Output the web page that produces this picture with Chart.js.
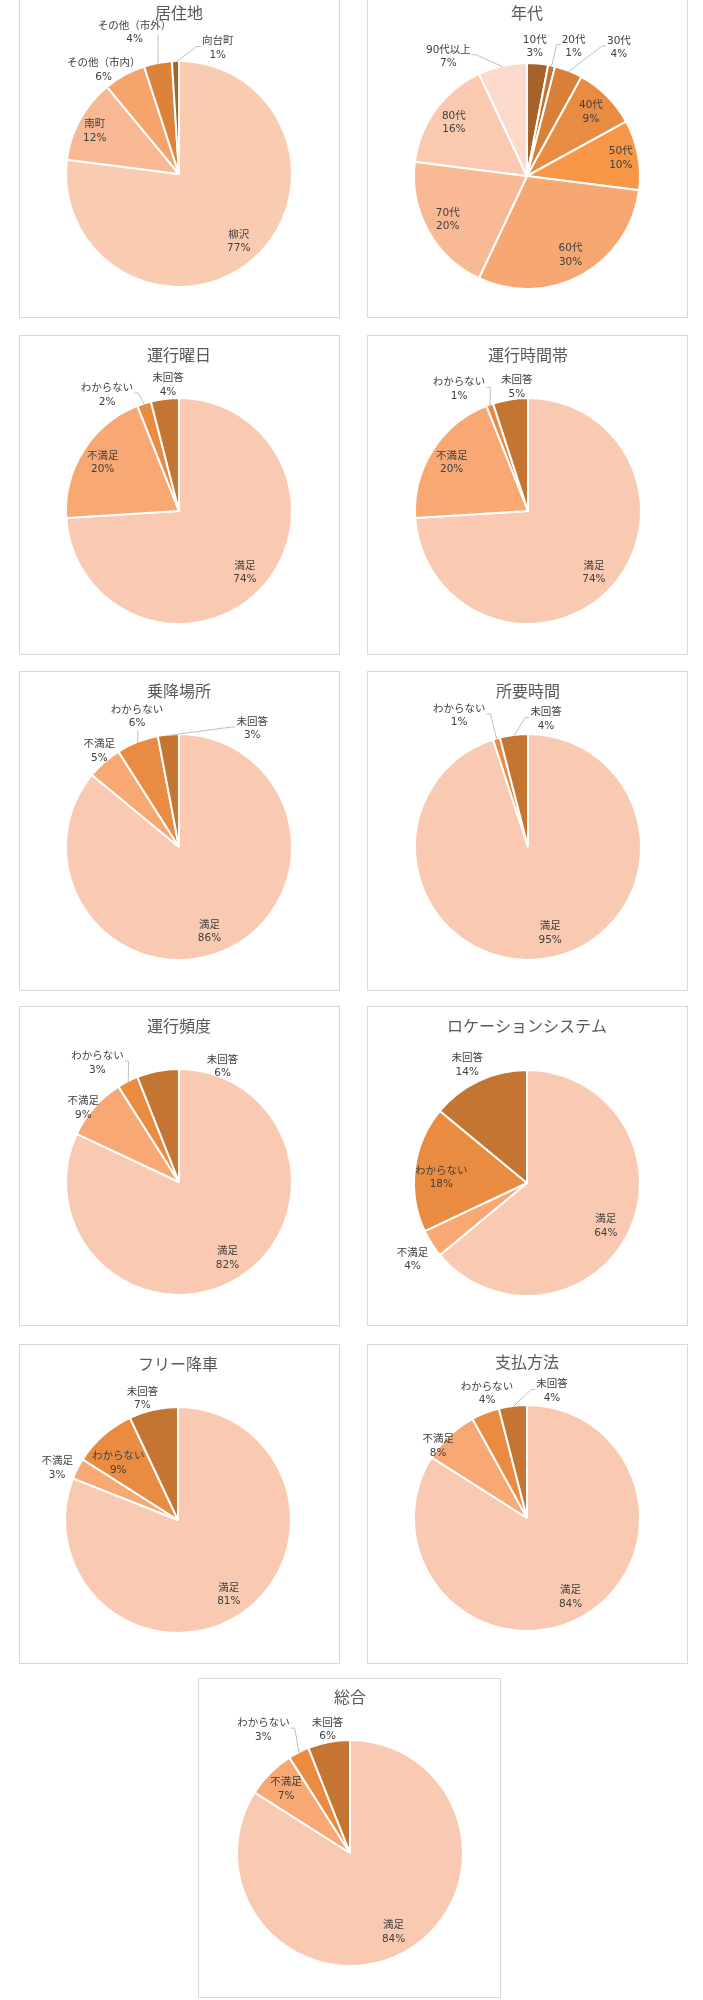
<!DOCTYPE html>
<html lang="ja">
<head>
<meta charset="utf-8">
<title>アンケート結果</title>
<script src="https://cdn.jsdelivr.net/npm/chart.js@4.4.1/dist/chart.umd.min.js"></script>
<style>
  body { margin: 0; background: #fff; width: 703px; height: 2000px; position: relative; overflow: hidden; }
  .panel { position: absolute; box-sizing: border-box; border: 1px solid #d9d9d9; background: #fff; }
  .panel canvas { position: absolute; left: -1px; top: -1px; }
</style>
</head>
<body>
<script>
'use strict';

// --- data ---
const residenceLabels = ['柳沢', '南町', 'その他（市内）', 'その他（市外）', '向台町'];
const residenceValues = [77, 12, 6, 4, 1];

const ageLabels = ['10代', '20代', '30代', '40代', '50代', '60代', '70代', '80代', '90代以上'];
const ageValues = [3, 1, 4, 9, 10, 30, 20, 16, 7];

const answerLabels = ['満足', '不満足', 'わからない', '未回答'];
const dayValues   = [74, 20, 2, 4];   // 運行曜日
const hourValues  = [74, 20, 1, 5];   // 運行時間帯
const stopValues  = [86, 5, 6, 3];    // 乗降場所
const rideValues  = [95, 0, 1, 4];    // 所要時間
const freqValues  = [82, 9, 3, 6];    // 運行頻度
const locValues   = [64, 4, 18, 14];  // ロケーションシステム
const freeValues  = [81, 3, 9, 7];    // フリー降車
const payValues   = [84, 8, 4, 4];    // 支払方法
const totalValues = [84, 7, 3, 6];    // 総合

// --- colours ---
const residenceColors = ['#f9cbb1', '#f8b893', '#f5a46c', '#dc8339', '#a5632b'];
const ageColors = ['#a5632b', '#c27232', '#d98038', '#e88c41', '#f79646', '#f7a872', '#f9b995', '#fac9af', '#fcdacb'];
const answerColors = ['#f9cab1', '#f7a873', '#e98c41', '#c47532'];

const FONT = '"Noto Sans CJK JP", "Noto Sans", sans-serif';
const LABEL_FONT = '"DejaVu Sans", "Noto Sans CJK JP", sans-serif';

// label placement: outside = drawn outside the pie, nudge = px shift, leaders = get a leader line
const panels = [
  { title: '居住地', labels: residenceLabels, values: residenceValues, colors: residenceColors,
    left: 19, top: -2, w: 321, h: 320, cx: 160, cy: 176, ty: 14.5,
    outside: [2, 3, 4], leaders: [3, 4], nudge: { 1: [-5, 1], 2: [-10, 15], 3: [-19, -8], 4: [43, 10] } },
  { title: '年代', labels: ageLabels, values: ageValues, colors: ageColors,
    left: 367, top: -2, w: 321, h: 320, cx: 160, cy: 178, ty: 14.5,
    outside: [0, 1, 2, 8], leaders: [1, 2, 8], nudge: { 0: [-5, 6], 1: [17, 3], 2: [42, -2], 4: [5, -1], 8: [-49, 13] } },
  { title: '運行曜日', labels: answerLabels, values: dayValues, colors: answerColors,
    left: 19, top: 335, w: 321, h: 320, cx: 160, cy: 176, ty: 20,
    outside: [2, 3], leaders: [2], nudge: { 2: [-30, 13], 3: [6, 9] } },
  { title: '運行時間帯', labels: answerLabels, values: hourValues, colors: answerColors,
    left: 367, top: 335, w: 321, h: 320, cx: 161, cy: 176, ty: 20,
    outside: [2, 3], leaders: [2], nudge: { 2: [-23, 6], 3: [10, 10] } },
  { title: '乗降場所', labels: answerLabels, values: stopValues, colors: answerColors,
    left: 19, top: 671, w: 321, h: 320, cx: 160, cy: 176, ty: 20,
    outside: [1, 2, 3], leaders: [2, 3], nudge: { 0: [-8, 3], 1: [10, 6], 2: [8, -4], 3: [86, 17] } },
  { title: '所要時間', labels: answerLabels, values: rideValues, colors: answerColors,
    left: 367, top: 671, w: 321, h: 320, cx: 161, cy: 176, ty: 20,
    outside: [1, 2, 3], leaders: [2, 3], nudge: { 0: [8, -3], 2: [-31, -1], 3: [35, 7] } },
  { title: '運行頻度', labels: answerLabels, values: freqValues, colors: answerColors,
    left: 19, top: 1006, w: 321, h: 320, cx: 160, cy: 176, ty: 20,
    outside: [1, 2, 3], leaders: [2], nudge: { 1: [6, 16], 2: [-20, 2], 3: [69, 18] } },
  { title: 'ロケーションシステム', labels: answerLabels, values: locValues, colors: answerColors,
    left: 367, top: 1006, w: 321, h: 320, cx: 160, cy: 177, ty: 20,
    outside: [1, 3], leaders: [], nudge: { 0: [-3, 5], 1: [0, 4], 2: [4, 6], 3: [-2, 5] } },
  { title: 'フリー降車', labels: answerLabels, values: freeValues, colors: answerColors,
    left: 19, top: 1344, w: 321, h: 320, cx: 159, cy: 176, ty: 20,
    outside: [1, 3], leaders: [], nudge: { 1: [0, 10], 2: [0, 11], 3: [-6, 11] } },
  { title: '支払方法', labels: answerLabels, values: payValues, colors: answerColors,
    left: 367, top: 1344, w: 321, h: 320, cx: 160, cy: 174, ty: 18,
    outside: [1, 2, 3], leaders: [3], nudge: { 1: [4, 27], 2: [10, 2], 3: [42, 8] } },
  { title: '総合', labels: answerLabels, values: totalValues, colors: answerColors,
    left: 198, top: 1678, w: 303, h: 320, cx: 152, cy: 175, ty: 19,
    outside: [2, 3], leaders: [2], nudge: { 2: [-25, -2], 3: [3, 10] } }
];

// data labels with leader lines, roughly like Excel "best fit"
const sliceLabels = {
  id: 'sliceLabels',
  afterDatasetsDraw(chart, args, opts) {
    const ctx = chart.ctx;
    const meta = chart.getDatasetMeta(0);
    const values = chart.data.datasets[0].data;
    const names = chart.data.labels;
    const lh = 13.5;
    ctx.save();
    ctx.font = '10.5px ' + LABEL_FONT;
    ctx.textAlign = 'center';
    ctx.textBaseline = 'middle';
    meta.data.forEach((arc, i) => {
      if (!values[i]) return;
      const p = arc.getProps(['x', 'y', 'startAngle', 'endAngle', 'outerRadius'], true);
      const mid = (p.startAngle + p.endAngle) / 2;
      const out = opts.outside.includes(i);
      const k = out ? 1.2 : 0.8;
      const n = opts.nudge[i] || [0, 0];
      const lx = p.x + Math.cos(mid) * p.outerRadius * k + n[0];
      const ly = p.y + Math.sin(mid) * p.outerRadius * k + n[1];
      const l1 = names[i], l2 = values[i] + '%';
      const w1 = ctx.measureText(l1).width, w2 = ctx.measureText(l2).width;
      const w = Math.max(w1, w2);

      if (opts.leaders.includes(i)) {
        const tx = p.x + Math.cos(mid) * (p.outerRadius - 1);
        const ty = p.y + Math.sin(mid) * (p.outerRadius - 1);
        const left = lx - w / 2, right = lx + w / 2, bottom = ly + lh;
        ctx.beginPath();
        if (tx < left - 2) {
          ctx.moveTo(left - 1, ly - 2);
          ctx.lineTo(left - 5, ly - 2);
        } else if (tx > right + 2) {
          ctx.moveTo(right + 1, ly - 2);
          ctx.lineTo(right + 5, ly - 2);
        } else if (Math.abs(tx - lx) > w2 / 2 + 3) {
          ctx.moveTo(tx, ly + 2);
        } else {
          ctx.moveTo(tx, bottom);
        }
        ctx.lineTo(tx, ty);
        ctx.strokeStyle = '#bfbfbf';
        ctx.lineWidth = 1;
        ctx.stroke();
      }
      ctx.fillStyle = '#404040';
      ctx.fillText(l1, lx, ly - lh / 2);
      ctx.fillText(l2, lx, ly + lh / 2);
    });
    ctx.restore();
  }
};

const R = 113;
panels.forEach(pn => {
  const div = document.createElement('div');
  div.className = 'panel';
  div.style.left = pn.left + 'px';
  div.style.top = pn.top + 'px';
  div.style.width = pn.w + 'px';
  div.style.height = pn.h + 'px';
  const canvas = document.createElement('canvas');
  canvas.width = pn.w;
  canvas.height = pn.h;
  div.appendChild(canvas);
  document.body.appendChild(div);

  const half = R + 2;
  const padTop = pn.ty - 9.6;
  const padBottom = (pn.cy - half) - padTop - 19.2;

  new Chart(canvas.getContext('2d'), {
    type: 'pie',
    data: {
      labels: pn.labels,
      datasets: [{
        data: pn.values,
        backgroundColor: pn.colors,
        borderColor: '#ffffff',
        borderWidth: 2,
        hoverOffset: 0,
        radius: R
      }]
    },
    options: {
      responsive: false,
      animation: false,
      layout: {
        padding: {
          top: 0,
          left: pn.cx - half,
          right: pn.w - pn.cx - half,
          bottom: pn.h - pn.cy - half
        }
      },
      plugins: {
        legend: { display: false },
        tooltip: { enabled: false },
        title: {
          display: true,
          text: pn.title,
          color: '#595959',
          font: { family: FONT, size: 16, weight: 'normal' },
          padding: { top: padTop, bottom: padBottom }
        },
        sliceLabels: { outside: pn.outside, nudge: pn.nudge, leaders: pn.leaders }
      }
    },
    plugins: [sliceLabels]
  });
});
</script>
</body>
</html>
